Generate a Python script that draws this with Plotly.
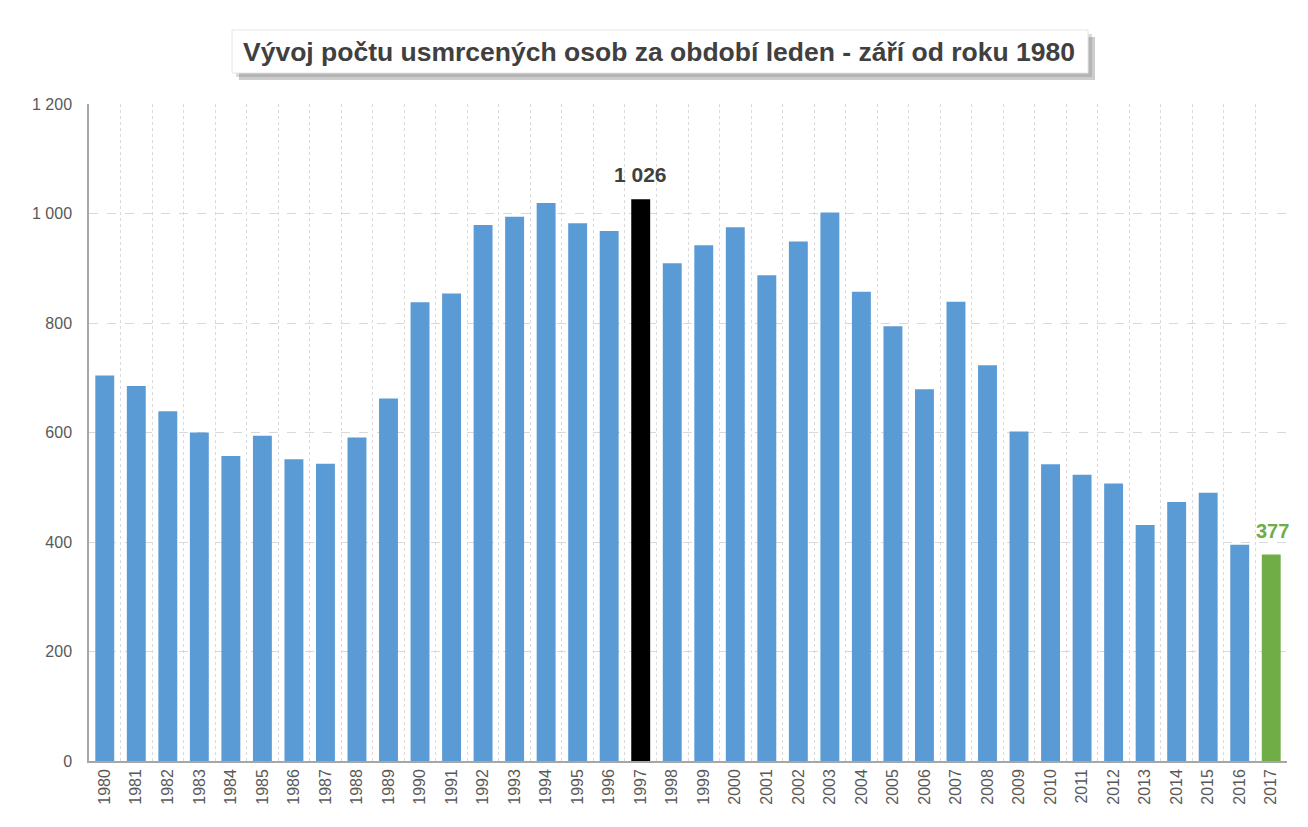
import plotly.graph_objects as go

years = list(range(1980, 2018))
deaths = [704, 685, 639, 600, 557, 594, 551, 543, 591, 662,
          838, 854, 979, 994, 1019, 982, 968, 1026, 909, 942,
          975, 887, 949, 1002, 857, 794, 679, 839, 723, 602,
          542, 523, 507, 431, 473, 490, 395, 377]
max_year = 1997
last_year = 2017
y_ticks = [0, 200, 400, 600, 800, 1000, 1200]
title = "Vývoj počtu usmrcených osob za období leden - září od roku 1980"

BLUE = "#5B9BD5"
colors = []
for yr in years:
    if yr == max_year:
        colors.append("#000000")
    elif yr == last_year:
        colors.append("#70AD47")
    else:
        colors.append(BLUE)

fig = go.Figure()
fig.add_trace(go.Bar(
    x=years, y=deaths,
    marker=dict(color=colors, line=dict(width=0)),
    hoverinfo="x+y",
))

OFF = 8  # page body margin
W, H = 1300, 819
L, R, T, B = 81, 21, 96, 66

fig.add_annotation(x=max_year, y=deaths[years.index(max_year)], text="<b>1 026</b>",
                   showarrow=False, yanchor="bottom", yshift=11,
                   font=dict(family="Arial, Liberation Sans, sans-serif", size=21, color="#404040"))
fig.add_annotation(x=last_year, y=deaths[years.index(last_year)], text="<b>377</b>",
                   showarrow=False, yanchor="bottom", yshift=11, xshift=1,
                   font=dict(family="Arial, Liberation Sans, sans-serif", size=20, color="#70AD47"))

# title box with shadow (screen pixel positions converted to paper coords)
pw = W - L - R
ph = H - T - B
def px(xs):
    return (xs - OFF - L) / pw
def py(ys):
    return (H - B - (ys - OFF)) / ph
fig.add_shape(type="rect", xref="paper", yref="paper",
              x0=px(239), x1=px(1095), y0=py(80), y1=py(37),
              fillcolor="rgba(110,110,110,0.35)", line=dict(width=0), layer="below")
fig.add_shape(type="rect", xref="paper", yref="paper",
              x0=px(236), x1=px(1092), y0=py(77), y1=py(34),
              fillcolor="rgba(110,110,110,0.25)", line=dict(width=0), layer="below")
fig.add_shape(type="rect", xref="paper", yref="paper",
              x0=px(232), x1=px(1088), y0=py(73), y1=py(30),
              fillcolor="white", line=dict(color="#E6E6E6", width=1), layer="below")
fig.add_annotation(xref="paper", yref="paper", x=px(659), y=py(52),
                   text="<b>" + title + "</b>", showarrow=False,
                   xanchor="center", yanchor="middle",
                   font=dict(family="Liberation Sans Narrow, Arial Narrow, Arial, sans-serif",
                             size=26.5, color="#404040"))

fig.update_layout(
    width=W, height=H,
    margin=dict(l=L, r=R, t=T, b=B),
    paper_bgcolor="white", plot_bgcolor="white",
    bargap=0.4,
    separators=", ",
    showlegend=False,
    font=dict(family="Arial, Liberation Sans, sans-serif", size=16, color="#595959"),
)
fig.update_xaxes(
    range=[1979.5, 2017.5],
    tickmode="array", tickvals=years, ticktext=[str(y) for y in years],
    tickangle=-90, ticks="", showgrid=False,
    showline=True, linecolor="#A6A6A6", linewidth=1.5,
    tickfont=dict(size=16, color="#595959"),
    minor=dict(tickmode="array", tickvals=[y + 0.5 for y in years],
               showgrid=True, gridcolor="#D9D9D9", griddash="dot", gridwidth=1, ticks=""),
    fixedrange=True,
)
fig.update_yaxes(
    range=[0, 1200], tickmode="array", tickvals=y_ticks, tickformat=",d",
    showgrid=True, gridcolor="#D9D9D9", griddash="dash", gridwidth=1,
    showline=True, linecolor="#A6A6A6", linewidth=1.5,
    zeroline=False, ticks="", ticklen=0, ticklabelstandoff=12,
    tickfont=dict(size=16, color="#595959"),
    fixedrange=True,
)

fig.write_html("out.html")
